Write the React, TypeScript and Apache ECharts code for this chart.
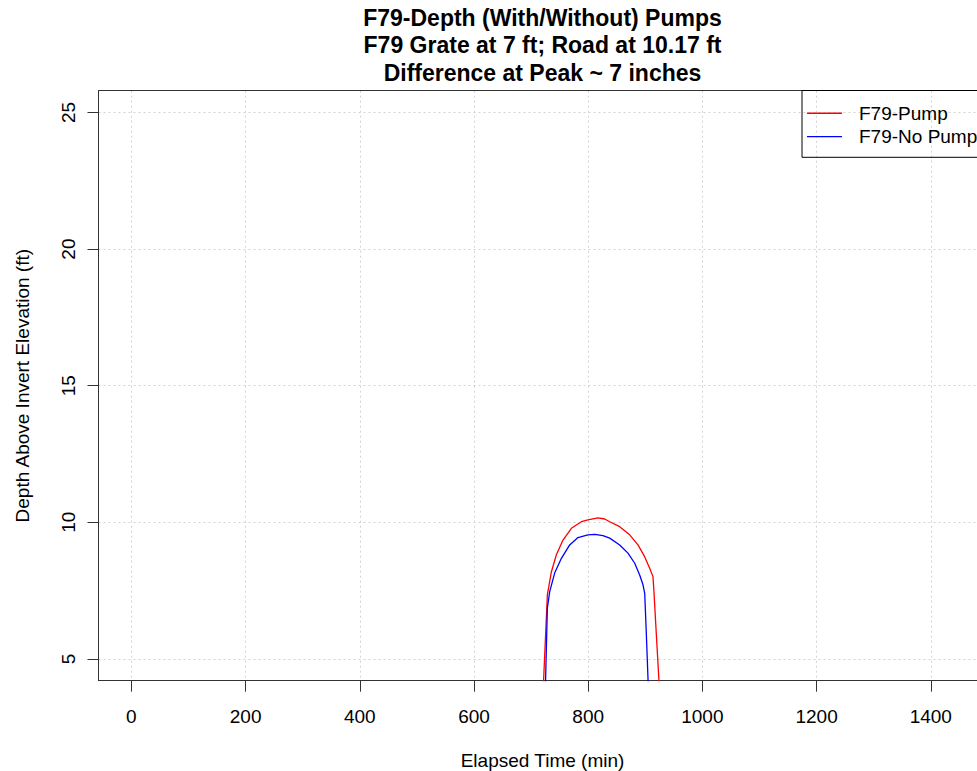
import React, { useEffect, useRef } from "react";
import * as echarts from "echarts";

const titleLines = [
  "F79-Depth (With/Without) Pumps",
  "F79 Grate at 7 ft; Road at 10.17 ft",
  "Difference at Peak ~ 7 inches",
];
const xLabel = "Elapsed Time (min)";
const yLabel = "Depth Above Invert Elevation (ft)";
const xTicks = [0, 200, 400, 600, 800, 1000, 1200, 1400];
const yTicks = [5, 10, 15, 20, 25];

const pumpName = "F79-Pump";
const pumpTime = [720, 728.5, 735.6, 744.3, 755.9, 770.6, 788.1, 799.6, 817.2, 828.9, 837.7, 855.2, 872.7, 887.2, 898.9, 907.7, 913.5, 915.2, 919.4, 925];
const pumpDepth = [3.3, 7.34, 8.19, 8.81, 9.35, 9.78, 10.02, 10.09, 10.16, 10.12, 10.02, 9.84, 9.54, 9.17, 8.74, 8.32, 8.01, 7.46, 5.88, 3.8];

const noPumpName = "F79-No Pump";
const noPumpTime = [724, 728.5, 732.6, 741.3, 753.1, 767.6, 782.1, 799.6, 811.4, 825.9, 837.7, 855.2, 869.7, 881.5, 890.2, 896, 899, 901.9, 906];
const noPumpDepth = [3.0, 6.86, 7.46, 8.14, 8.68, 9.17, 9.44, 9.54, 9.56, 9.51, 9.42, 9.17, 8.87, 8.5, 8.07, 7.71, 7.4, 5.88, 3.6];

const FONT = "'Liberation Sans', Arial, Helvetica, sans-serif";

export default function App() {
  const ref = useRef<HTMLDivElement>(null);
  useEffect(() => {
    if (!ref.current) return;
    document.documentElement.style.overflow = "hidden";
    const chart = echarts.init(ref.current, null, { renderer: "svg" });
    const axisColor = "#333";
    const gridLine = { show: true, lineStyle: { color: "#d3d3d3", type: [2, 3] as any, width: 1 } };
    const plotLeft = 98.5;
    const plotWidth = 888;
    const titleCenter = plotLeft + plotWidth / 2;
    chart.setOption({
      animation: false,
      backgroundColor: "#fff",
      textStyle: { fontFamily: FONT },
      graphic: titleLines.map((line, i) => ({
        type: "text",
        x: titleCenter,
        y: 17.5 + i * 27.5,
        silent: true,
        style: {
          text: line,
          textAlign: "center",
          textVerticalAlign: "middle",
          font: `bold 23px ${FONT}`,
          fill: "#000",
        },
      })),
      grid: {
        left: plotLeft,
        top: 90.7,
        width: plotWidth,
        height: 590,
        containLabel: false,
        outerBoundsMode: "none",
      },
      legend: {
        orient: "vertical",
        left: 802,
        top: 90.5,
        padding: [11, 14, 9, 5],
        itemGap: 0,
        itemWidth: 35,
        itemHeight: 1.4,
        icon: "rect",
        borderColor: "#000",
        borderWidth: 1,
        borderRadius: 0,
        backgroundColor: "transparent",
        textStyle: { fontFamily: FONT, fontSize: 19, color: "#000", lineHeight: 23.4, padding: [0, 0, 0, 12] },
        data: [pumpName, noPumpName],
      },
      xAxis: [
        {
          type: "value",
          min: -57.6,
          max: 1497.6,
          name: xLabel,
          nameLocation: "middle",
          nameGap: 70,
          nameTextStyle: { fontFamily: FONT, fontSize: 19, color: "#000" },
          axisLine: { show: true, onZero: false, lineStyle: { color: axisColor, width: 1 } },
          axisTick: { show: true, length: 11, lineStyle: { color: axisColor }, customValues: xTicks },
          axisLabel: {
            customValues: xTicks,
            formatter: (v: number) => String(v),
            fontFamily: FONT,
            fontSize: 19,
            color: "#000",
            margin: 26,
          },
          splitLine: gridLine,
        },
        {
          type: "value",
          position: "top",
          min: -57.6,
          max: 1497.6,
          axisLine: { show: true, onZero: false, lineStyle: { color: axisColor, width: 1 } },
          axisTick: { show: false },
          axisLabel: { show: false },
          splitLine: { show: false },
        },
      ],
      yAxis: {
        type: "value",
        min: 4.2,
        max: 25.8,
        name: yLabel,
        nameLocation: "middle",
        nameGap: 67,
        nameTextStyle: { fontFamily: FONT, fontSize: 19, color: "#000" },
        axisLine: { show: true, onZero: false, lineStyle: { color: axisColor, width: 1 } },
        axisTick: { show: true, length: 11, lineStyle: { color: axisColor }, customValues: yTicks },
        axisLabel: {
          customValues: yTicks,
          formatter: (v: number) => String(v),
          rotate: 90,
          fontFamily: FONT,
          fontSize: 19,
          color: "#000",
          margin: 21,
        },
        splitLine: gridLine,
      },
      series: [
        {
          name: pumpName,
          type: "line",
          symbol: "none",
          clip: true,
          color: "#ff0000",
          lineStyle: { color: "#ff0000", width: 1.3 },
          data: pumpTime.map((t, i) => [t, pumpDepth[i]]),
        },
        {
          name: noPumpName,
          type: "line",
          symbol: "none",
          clip: true,
          color: "#0000ff",
          lineStyle: { color: "#0000ff", width: 1.3 },
          data: noPumpTime.map((t, i) => [t, noPumpDepth[i]]),
        },
      ],
    });
    return () => chart.dispose();
  }, []);
  return (
    <div
      ref={ref}
      style={{ position: "fixed", left: 0, top: 0, width: 977, height: 771 }}
    />
  );
}
